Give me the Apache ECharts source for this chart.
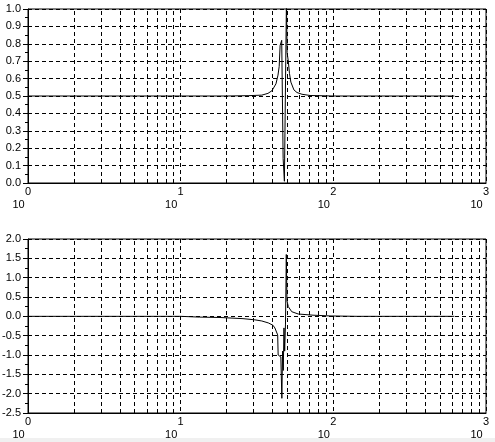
<!DOCTYPE html>
<html>
<head>
<meta charset="utf-8">
<script src="https://cdn.jsdelivr.net/npm/echarts@6/dist/echarts.min.js"></script>
<style>
html,body{margin:0;padding:0;background:#fff;}
#c{width:495px;height:442px;}
</style>
</head>
<body>
<div id="c"></div>
<script>
// Frequencies (log x axis) and values
var freqRe = [1, 10, 20, 28, 34.0, 37.3, 39.6, 42.1, 43.4, 44.2, 44.8, 45.9, 46.9, 47.8, 49.3, 49.8, 50.7, 51.6, 52.7, 55.2, 57.8, 62.3, 70.3, 100, 620];
var valRe  = [0.5, 0.5, 0.5, 0.502, 0.505, 0.515, 0.53, 0.57, 0.62, 0.67, 0.79, 0.82, 0.14, 0.01, 1.05, 0.75, 0.7, 0.63, 0.58, 0.535, 0.52, 0.51, 0.503, 0.5, 0.5];

var freqIm = [1, 10, 13.3, 18.1, 25.6, 30.6, 34.0, 37.5, 40.2, 41.4, 43.2, 43.5, 45.3, 46.0, 46.5, 47.0, 47.5, 48.0, 48.6, 49.2, 49.7, 50.7, 53.4, 58.9, 73.6, 95.1, 143, 620];
var valIm  = [0, 0, -0.02, -0.03, -0.06, -0.09, -0.12, -0.17, -0.23, -0.3, -0.48, -1.0, -1.05, -2.12, -0.9, -1.4, -0.3, -0.9, -0.2, 1.6, 0.4, 0.25, 0.12, 0.06, 0.03, 0.01, 0, 0];

var xTicks = [1, 10, 100, 1000];
var minorGrid = [2,3,4,5,6,7,8,9,20,30,40,50,60,70,80,90,200,300,400,500,600,700,800,900];
var yTopTicks = {min: 0, max: 1, interval: 0.1};
var yBotTicks = {min: -2.5, max: 2, interval: 0.5};

function pairs(xs, ys){ return xs.map(function(x,i){ return [x, ys[i]]; }); }

var FONT = 'Liberation Sans, Arial, sans-serif';
var dashed = {color:'#000', width:1, type:[4,3]};

function xAxisCfg(gi){
  return {
    gridIndex: gi, type: 'log', logBase: 10, min: xTicks[0], max: xTicks[xTicks.length-1],
    axisLine: {show: true, onZero: false, lineStyle: {color:'#000', width:1}},
    axisTick: {show: false},
    splitLine: {show: true, lineStyle: dashed},
    axisLabel: {
      margin: 3, hideOverlap: false,
      formatter: function(v){ return '{s|' + Math.round(Math.log10(v)) + '}\n{b|10}'; },
      rich: {
        s: {fontFamily: FONT, fontSize: 11, color:'#000', lineHeight: 12},
        b: {fontFamily: FONT, fontSize: 11, color:'#000', lineHeight: 14, padding: [0, 19, 0, 0]}
      }
    }
  };
}
function yAxisCfg(gi, t){
  return {
    gridIndex: gi, type: 'value', min: t.min, max: t.max, interval: t.interval,
    axisLine: {show: true, onZero: false, lineStyle: {color:'#000', width:1}},
    axisTick: {show: true, inside: false, length: 5, lineStyle: {color:'#000'}},
    minorTick: {show: true, splitNumber: 2, length: 3, lineStyle: {color:'#000'}},
    splitLine: {show: true, lineStyle: dashed},
    axisLabel: {margin: 7, color:'#000', fontFamily: FONT, fontSize: 11,
      formatter: function(v){ return v.toFixed(1); }}
  };
}
function lineSeries(gi, data){
  return {
    type: 'line', xAxisIndex: gi, yAxisIndex: gi, data: data,
    showSymbol: false, symbol: 'none', clip: true, animation: false,
    lineStyle: {color:'#000', width:1},
    markLine: {
      silent: true, symbol: ['none','none'], label: {show:false}, animation: false,
      lineStyle: dashed,
      data: minorGrid.map(function(v){ return {xAxis: v}; })
    },
    z: 5
  };
}

var gridBase = {left: 28, width: 458, height: 174, show: true, borderColor:'#000', borderWidth:1,
  backgroundColor:'transparent', containLabel: false, outerBoundsMode: 'none'};

var chart = echarts.init(document.getElementById('c'), null, {renderer:'canvas'});
chart.setOption({
  backgroundColor: '#fff',
  animation: false,
  grid: [
    Object.assign({top: 9}, gridBase),
    Object.assign({top: 239}, gridBase)
  ],
  xAxis: [xAxisCfg(0), xAxisCfg(1)],
  yAxis: [yAxisCfg(0, yTopTicks), yAxisCfg(1, yBotTicks)],
  series: [lineSeries(0, pairs(freqRe, valRe)), lineSeries(1, pairs(freqIm, valIm))],
  graphic: [
    {type:'rect', left: 0, bottom: 0, shape:{width:495, height:4}, style:{fill:'#f0f0f0'}, silent:true}
  ]
});
</script>
</body>
</html>
